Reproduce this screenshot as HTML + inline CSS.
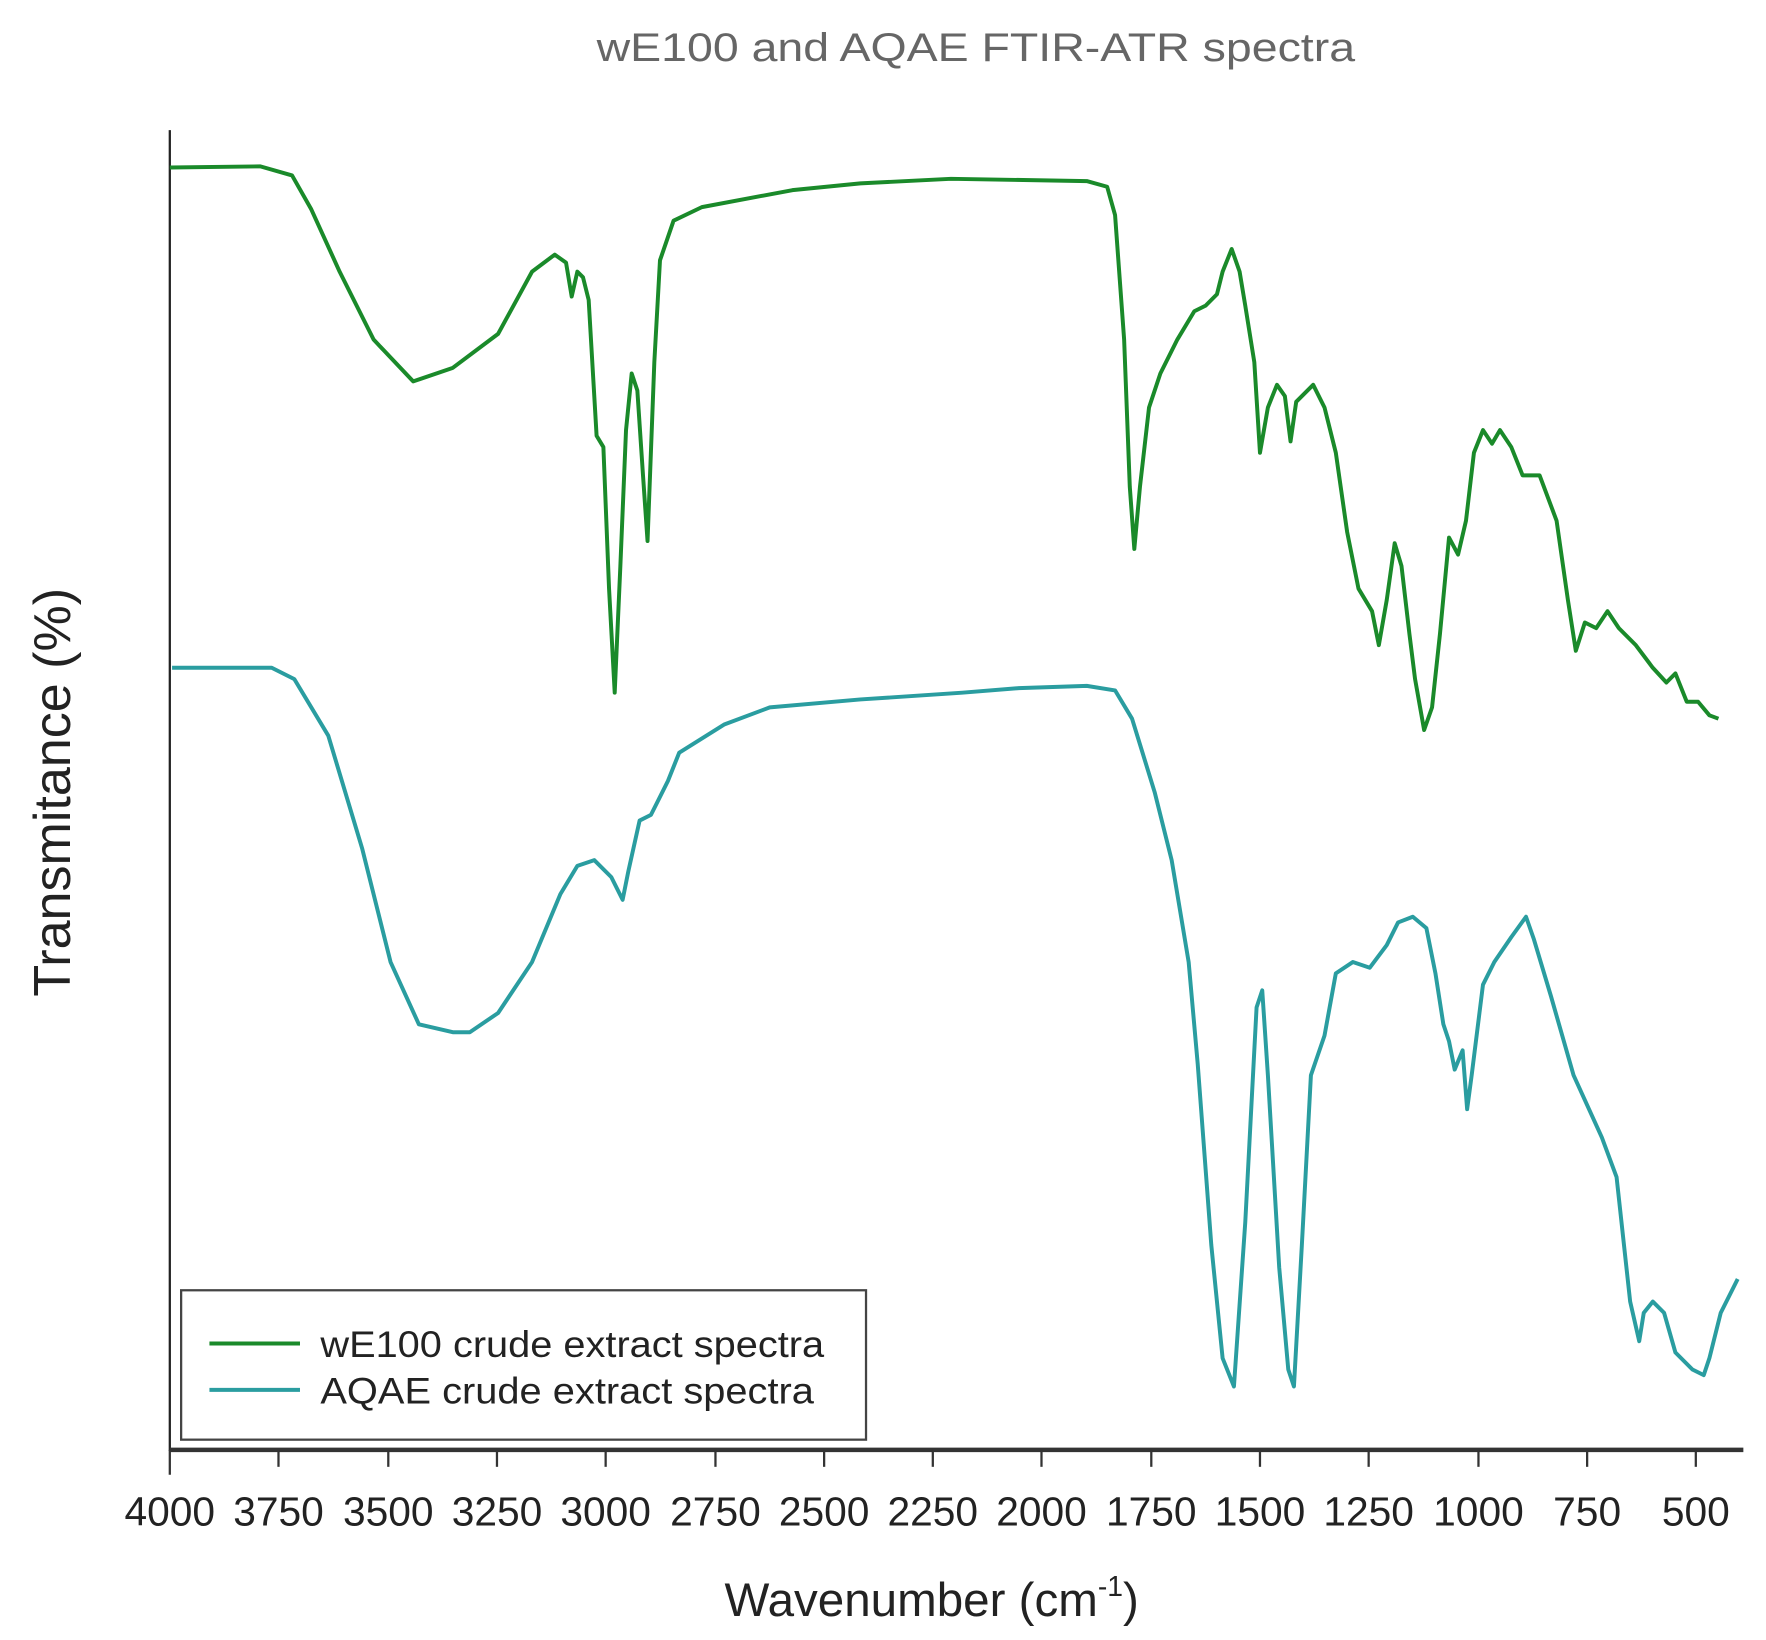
<!DOCTYPE html>
<html><head><meta charset="utf-8"><style>
html,body{margin:0;padding:0;background:#fff;}
svg{display:block;}
text{font-family:"Liberation Sans",sans-serif;}
</style></head><body>
<svg width="1766" height="1640" viewBox="0 0 1560 1449" preserveAspectRatio="none">
<text x="527" y="54" font-size="35" fill="#666" textLength="670" lengthAdjust="spacingAndGlyphs">wE100 and AQAE FTIR-ATR spectra</text>
<line x1="150" y1="115" x2="150" y2="1282" stroke="#222" stroke-width="2"/>
<line x1="150" y1="1281" x2="1540" y2="1281" stroke="#333" stroke-width="4"/>
<g stroke="#333" stroke-width="2">
<line x1="150" y1="1281" x2="150" y2="1303"/><line x1="246" y1="1281" x2="246" y2="1296"/><line x1="343" y1="1281" x2="343" y2="1296"/><line x1="439" y1="1281" x2="439" y2="1296"/><line x1="535" y1="1281" x2="535" y2="1296"/><line x1="632" y1="1281" x2="632" y2="1296"/><line x1="728" y1="1281" x2="728" y2="1296"/><line x1="824" y1="1281" x2="824" y2="1296"/><line x1="920" y1="1281" x2="920" y2="1296"/><line x1="1017" y1="1281" x2="1017" y2="1296"/><line x1="1113" y1="1281" x2="1113" y2="1296"/><line x1="1209" y1="1281" x2="1209" y2="1296"/><line x1="1306" y1="1281" x2="1306" y2="1296"/><line x1="1402" y1="1281" x2="1402" y2="1296"/><line x1="1498" y1="1281" x2="1498" y2="1296"/>
</g>
<g font-size="36" fill="#222">
<text x="110" y="1348" textLength="80" lengthAdjust="spacingAndGlyphs">4000</text><text x="206" y="1348" textLength="80" lengthAdjust="spacingAndGlyphs">3750</text><text x="303" y="1348" textLength="80" lengthAdjust="spacingAndGlyphs">3500</text><text x="399" y="1348" textLength="80" lengthAdjust="spacingAndGlyphs">3250</text><text x="495" y="1348" textLength="80" lengthAdjust="spacingAndGlyphs">3000</text><text x="592" y="1348" textLength="80" lengthAdjust="spacingAndGlyphs">2750</text><text x="688" y="1348" textLength="80" lengthAdjust="spacingAndGlyphs">2500</text><text x="784" y="1348" textLength="80" lengthAdjust="spacingAndGlyphs">2250</text><text x="880" y="1348" textLength="80" lengthAdjust="spacingAndGlyphs">2000</text><text x="977" y="1348" textLength="80" lengthAdjust="spacingAndGlyphs">1750</text><text x="1073" y="1348" textLength="80" lengthAdjust="spacingAndGlyphs">1500</text><text x="1169" y="1348" textLength="80" lengthAdjust="spacingAndGlyphs">1250</text><text x="1266" y="1348" textLength="80" lengthAdjust="spacingAndGlyphs">1000</text><text x="1372" y="1348" textLength="60" lengthAdjust="spacingAndGlyphs">750</text><text x="1468" y="1348" textLength="60" lengthAdjust="spacingAndGlyphs">500</text>
</g>
<text x="640" y="1428" font-size="42" fill="#222">Wavenumber (cm<tspan font-size="25" dy="-18">-1</tspan><tspan dy="18">)</tspan></text>
<text transform="translate(62,700) rotate(-90)" font-size="46" fill="#222" text-anchor="middle">Transmitance (%)</text>
<polyline fill="none" stroke="#1a8a2a" stroke-width="3.5" stroke-linejoin="round" points="150,148 230,147 258,155 275,185 300,240 330,300 365,337 400,325 440,295 470,240 490,225 500,232 505,262 510,240 515,245 520,265 527,385 533,395 538,520 543,612 548,500 553,380 558,330 563,345 568,420 572,478 578,320 583,230 595,195 620,183 700,168 760,162 840,158 960,160 978,165 985,190 993,300 998,430 1002,485 1007,430 1015,360 1025,330 1040,300 1055,275 1065,270 1075,260 1080,240 1088,220 1095,240 1100,270 1108,320 1113,400 1120,360 1128,340 1135,350 1140,390 1145,355 1160,340 1170,360 1180,400 1190,470 1200,520 1212,540 1218,570 1225,530 1232,480 1238,500 1245,560 1250,600 1258,645 1265,625 1272,560 1280,475 1288,490 1295,460 1302,400 1310,380 1318,392 1325,380 1335,395 1345,420 1360,420 1375,460 1385,530 1392,575 1400,550 1410,555 1420,540 1430,555 1445,570 1460,590 1472,603 1480,595 1490,620 1500,620 1510,632 1518,635"/>
<polyline fill="none" stroke="#2a9da0" stroke-width="3.5" stroke-linejoin="round" points="152,590 240,590 260,600 290,650 320,750 345,850 370,905 400,912 415,912 440,895 470,850 495,790 510,765 525,760 540,775 550,795 555,770 565,725 575,720 580,710 590,690 600,665 640,640 680,625 760,618 850,612 900,608 960,606 985,610 1000,635 1020,700 1035,760 1050,850 1058,940 1070,1100 1080,1200 1090,1225 1100,1080 1110,890 1115,875 1120,950 1130,1120 1138,1210 1143,1225 1150,1100 1158,950 1170,915 1180,860 1195,850 1210,855 1225,835 1235,815 1248,810 1260,820 1268,860 1275,905 1280,920 1285,945 1292,928 1296,980 1300,950 1310,870 1320,850 1335,828 1348,810 1355,830 1370,880 1390,950 1415,1005 1428,1040 1440,1150 1448,1185 1452,1160 1460,1150 1470,1160 1480,1195 1495,1210 1505,1215 1510,1200 1520,1160 1535,1130"/>
<rect x="160" y="1140" width="605" height="132" fill="#fff" stroke="#444" stroke-width="2"/>
<line x1="185" y1="1187" x2="265" y2="1187" stroke="#1a8a2a" stroke-width="3.5"/>
<line x1="185" y1="1228" x2="265" y2="1228" stroke="#2a9da0" stroke-width="3.5"/>
<text x="283" y="1199" font-size="33" fill="#222" textLength="445" lengthAdjust="spacingAndGlyphs">wE100 crude extract spectra</text>
<text x="283" y="1240" font-size="33" fill="#222" textLength="436" lengthAdjust="spacingAndGlyphs">AQAE crude extract spectra</text>
</svg>
</body></html>
